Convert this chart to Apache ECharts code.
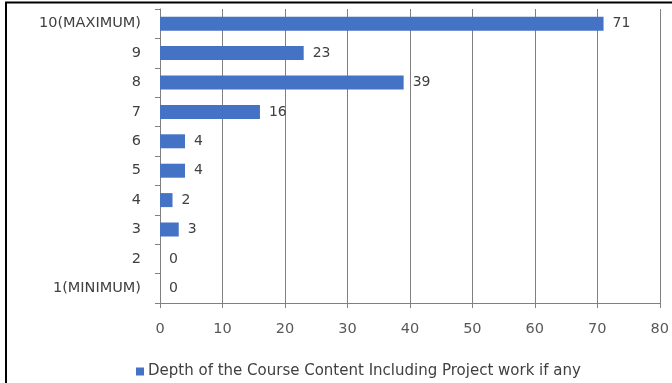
<!DOCTYPE html>
<html>
<head>
<meta charset="utf-8">
<script src="https://cdn.jsdelivr.net/npm/echarts@6/dist/echarts.min.js"></script>
<style>
html,body{margin:0;padding:0;background:#fff;}
#chart{width:672px;height:383px;}
</style>
</head>
<body>
<div id="chart"></div>
<script>
var categories = ['1(MINIMUM)', '2', '3', '4', '5', '6', '7', '8', '9', '10(MAXIMUM)'];
var values = [0, 0, 3, 2, 4, 4, 16, 39, 23, 71];
var seriesName = 'Depth of the Course Content Including Project work if any';
var xTicks = [0, 10, 20, 30, 40, 50, 60, 70, 80];

var chart = echarts.init(document.getElementById('chart'), null, {renderer: 'canvas'});
var font = 'DejaVu Sans';
chart.setOption({
  animation: false,
  backgroundColor: '#ffffff',
  grid: {left: 160, right: 12, top: 9, bottom: 80, containLabel: false},
  legend: {
    show: true,
    data: [seriesName],
    left: 131,
    top: 359,
    icon: 'rect',
    itemWidth: 8,
    itemHeight: 8,
    itemGap: 5,
    textStyle: {fontFamily: font, fontSize: 15, color: '#404040', padding: [0, 0, 0, -1]}
  },
  xAxis: {
    type: 'value',
    min: xTicks[0],
    max: xTicks[xTicks.length - 1],
    interval: 10,
    axisLine: {show: true, lineStyle: {color: '#808080', width: 1}},
    axisTick: {show: true, length: 5, lineStyle: {color: '#808080'}},
    splitLine: {show: true, lineStyle: {color: '#808080', width: 1}},
    axisLabel: {fontFamily: font, fontSize: 14.5, color: '#595959', margin: 19}
  },
  yAxis: {
    type: 'category',
    data: categories,
    axisLine: {show: true, lineStyle: {color: '#808080', width: 1}},
    axisTick: {show: true, length: 5, lineStyle: {color: '#808080'}},
    splitLine: {show: false},
    axisLabel: {fontFamily: font, fontSize: 14.5, color: '#404040', margin: 19}
  },
  series: [{
    name: seriesName,
    type: 'bar',
    data: values,
    barWidth: 14,
    itemStyle: {color: '#4472C4'},
    label: {
      show: true,
      position: 'right',
      distance: 9,
      fontFamily: font,
      fontSize: 14,
      color: '#404040'
    }
  }],
  graphic: [{
    type: 'rect',
    shape: {x: 6, y: 2.5, width: 800, height: 500},
    style: {fill: 'none', stroke: '#000000', lineWidth: 2},
    silent: true,
    z: 100
  }]
});
</script>
</body>
</html>
